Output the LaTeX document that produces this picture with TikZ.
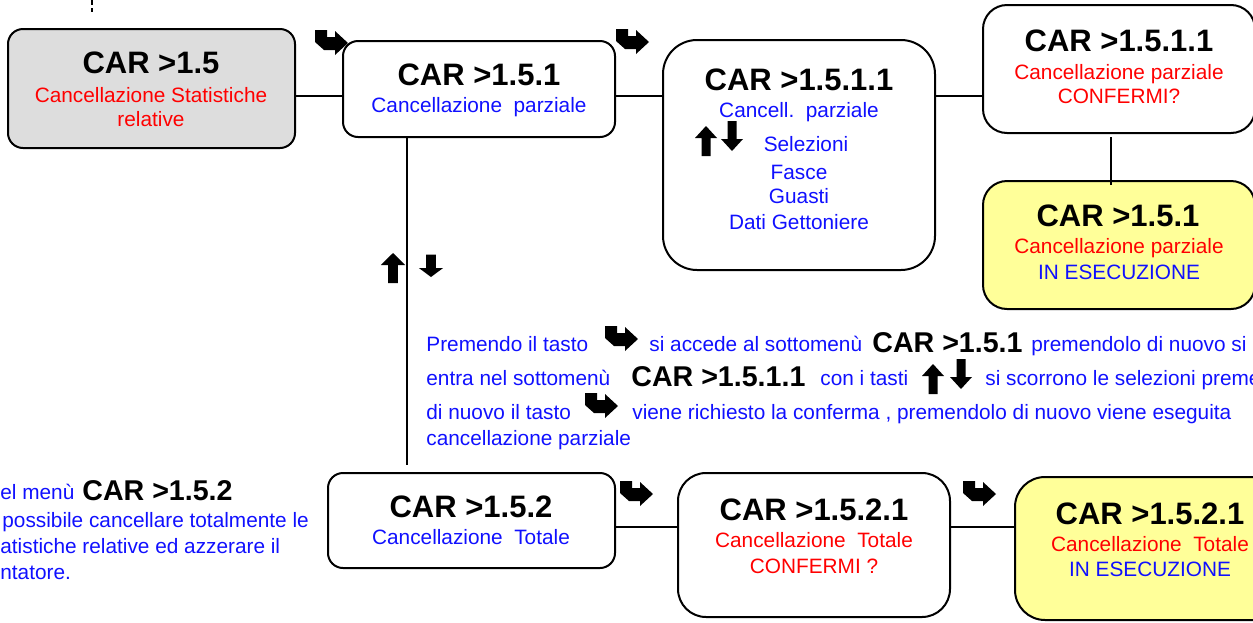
\documentclass[tikz,border=0pt]{standalone}
\usepackage{fontspec}
\setmainfont{Liberation Sans}
\usetikzlibrary{positioning}

\definecolor{menugray}{HTML}{DDDDDD}
\definecolor{menuyellow}{HTML}{FFFF99}
\definecolor{menured}{HTML}{FF0000}
\definecolor{menublue}{HTML}{1010FF}

\newcommand{\carfont}{\fontsize{15.5}{18}\selectfont\bfseries}
\newcommand{\bodyfont}{\fontsize{10.4}{12.5}\selectfont}

\tikzset{
  menubox/.style={draw, line width=1pt, inner sep=0pt, outer sep=0pt},
  link/.style={line width=1pt},
  cartitle/.style={anchor=base, inner sep=0pt, font=\carfont},
  bodytxt/.style={anchor=base, inner sep=0pt, font=\bodyfont},
  paratxt/.style={anchor=base west, inner sep=0pt, font=\bodyfont, text=menublue},
  parabold/.style={anchor=base west, inner sep=0pt, font=\fontsize{14.3}{16}\selectfont\bfseries},
  tasto/.pic={\fill (0,0) -- (12,0) -- (12,7) -- (20,7) -- (20,1) -- (33,13) -- (20,25) -- (20,20) -- (9,20) -- (0,12) -- cycle;},
  uparr/.pic={\fill (0,0) -- (11,12) -- (4.5,12) -- (4.5,30) -- (-4.5,30) -- (-4.5,12) -- (-11,12) -- cycle;},
  dnarr/.pic={\fill (0,0) -- (11,-12) -- (4.5,-12) -- (4.5,-30) -- (-4.5,-30) -- (-4.5,-12) -- (-11,-12) -- cycle;}
}

\begin{document}
\begin{tikzpicture}[x=0.5pt,y=-0.5pt]
\useasboundingbox (0,0) rectangle (1253,622);
\clip (0,0) rectangle (1253,622);

% key arrows (behind the boxes)
\pic at (315,30) {tasto};
\pic at (616,29) {tasto};
\pic at (620,481) {tasto};
\pic at (963,481) {tasto};

% menu boxes
\node[menubox, fill=menugray, rounded corners=7.5pt, minimum width=143.5pt, minimum height=59.5pt] (A) at (151.5,88.5) {};
\node[menubox, fill=white, rounded corners=7.5pt, minimum width=136pt, minimum height=48pt] (B) at (479,89) {};
\node[menubox, fill=white, rounded corners=17pt, minimum width=136pt, minimum height=115pt] (C) at (799,155) {};
\node[menubox, fill=white, rounded corners=12pt, minimum width=136pt, minimum height=64pt] (D) at (1119,69) {};
\node[menubox, fill=menuyellow, rounded corners=12pt, minimum width=136pt, minimum height=64pt] (E) at (1119,245) {};
\node[menubox, fill=white, rounded corners=7.5pt, minimum width=143.5pt, minimum height=47.5pt] (F) at (471.5,520.5) {};
\node[menubox, fill=white, rounded corners=14pt, minimum width=136pt, minimum height=72pt] (G) at (814,545) {};
\node[menubox, fill=menuyellow, rounded corners=15pt, minimum width=135pt, minimum height=71.5pt] (H) at (1150,548.5) {};

% connectors
\coordinate (row1) at (0,96);
\coordinate (row2) at (0,527);
\coordinate (col1) at (407,0);
\coordinate (col2) at (1111,0);
\coordinate (upper) at (92,0);
\draw[link] (A.east |- row1) -- (B.west |- row1);
\draw[link] (B.east |- row1) -- (C.west |- row1);
\draw[link] (C.east |- row1) -- (D.west |- row1);
\draw[link] ([yshift=-2pt]D.south -| col2) -- ([yshift=-2pt]E.north -| col2);
\draw[link, shorten >=4pt] (B.south -| col1) -- (F.north -| col1);
\draw[link] (F.east |- row2) -- (G.west |- row2);
\draw[link] (G.east |- row2) -- (H.west |- row2);
\draw[line width=0.6pt, dash pattern=on 2.5pt off 1.5pt] (upper) -- ++(0,12);

% box texts
\node[cartitle] (A1) at (151,73) {CAR >1.5};
\node[bodytxt, text=menured] (A2) at (151,102) {Cancellazione Statistiche};
\node[bodytxt, text=menured] (A3) at (151,126) {relative};

\node[cartitle] (B1) at (479,85) {CAR >1.5.1};
\node[bodytxt, text=menublue] (B2) at (479,112) {Cancellazione\ \ parziale};

\node[cartitle] (C1) at (799,90) {CAR >1.5.1.1};
\node[bodytxt, text=menublue] (C2) at (799,117) {Cancell.\ \ parziale};
\node[bodytxt, text=menublue] (C3) at (806,151) {Selezioni};
\node[bodytxt, text=menublue] (C4) at (799,179) {Fasce};
\node[bodytxt, text=menublue] (C5) at (799,203) {Guasti};
\node[bodytxt, text=menublue] (C6) at (799,229) {Dati Gettoniere};
\pic at (706,126) {uparr};
\pic at (732,151) {dnarr};

\node[cartitle] (D1) at (1119,51) {CAR >1.5.1.1};
\node[bodytxt, text=menured] (D2) at (1119,79) {Cancellazione parziale};
\node[bodytxt, text=menured] (D3) at (1119,103) {CONFERMI?};

\node[cartitle] (E1) at (1118,226) {CAR >1.5.1};
\node[bodytxt, text=menured] (E2) at (1119,253) {Cancellazione parziale};
\node[bodytxt, text=menublue] (E3) at (1119,279) {IN ESECUZIONE};

\node[cartitle] (F1) at (471,517) {CAR >1.5.2};
\node[bodytxt, text=menublue] (F2) at (471,544) {Cancellazione\ \ Totale};

\node[cartitle] (G1) at (814,520) {CAR >1.5.2.1};
\node[bodytxt, text=menured] (G2) at (814,547) {Cancellazione\ \ Totale};
\node[bodytxt, text=menured] (G3) at (814,573) {CONFERMI ?};

\node[cartitle] (H1) at (1150,524) {CAR >1.5.2.1};
\node[bodytxt, text=menured] (H2) at (1150,551) {Cancellazione\ \ Totale};
\node[bodytxt, text=menublue] (H3) at (1150,576) {IN ESECUZIONE};

% up/down keys on the vertical link
\pic[xscale=1.1] at (393,253) {uparr};
\pic[xscale=1.1, yscale=0.75] at (431,277) {dnarr};

% explanation of the 1.5.1 branch
\node[paratxt] (P1a) at (426,351) {Premendo il tasto};
\pic at (605,326) {tasto};
\node[paratxt] (P1b) at (649,351) {si accede al sottomenù};
\node[parabold] (P1c) at (872,352) {CAR >1.5.1};
\node[paratxt] (P1d) at (1031,351) {premendolo di nuovo si};
\node[paratxt] (P2a) at (426,385) {entra nel sottomenù};
\node[parabold] (P2b) at (631,386) {CAR >1.5.1.1};
\node[paratxt] (P2c) at (820,385) {con i tasti};
\pic at (933,364) {uparr};
\pic at (961,389) {dnarr};
\node[paratxt] (P2d) at (985,385) {si scorrono le selezioni preme};
\node[paratxt] (P3a) at (426,419) {di nuovo il tasto};
\pic at (585,393) {tasto};
\node[paratxt] (P3b) at (632,419) {viene richiesto la conferma , premendolo di nuovo viene eseguita};
\node[paratxt] (P4a) at (426,445) {cancellazione parziale};

% explanation of the 1.5.2 branch
\node[paratxt] (Q1a) at (0,499) {el menù};
\node[parabold] (Q1b) at (82,500) {CAR >1.5.2};
\node[paratxt] (Q2a) at (2,527) {possibile cancellare totalmente le};
\node[paratxt] (Q3a) at (0,553) {atistiche relative ed azzerare il};
\node[paratxt] (Q4a) at (0,579) {ntatore.};

\end{tikzpicture}
\end{document}
